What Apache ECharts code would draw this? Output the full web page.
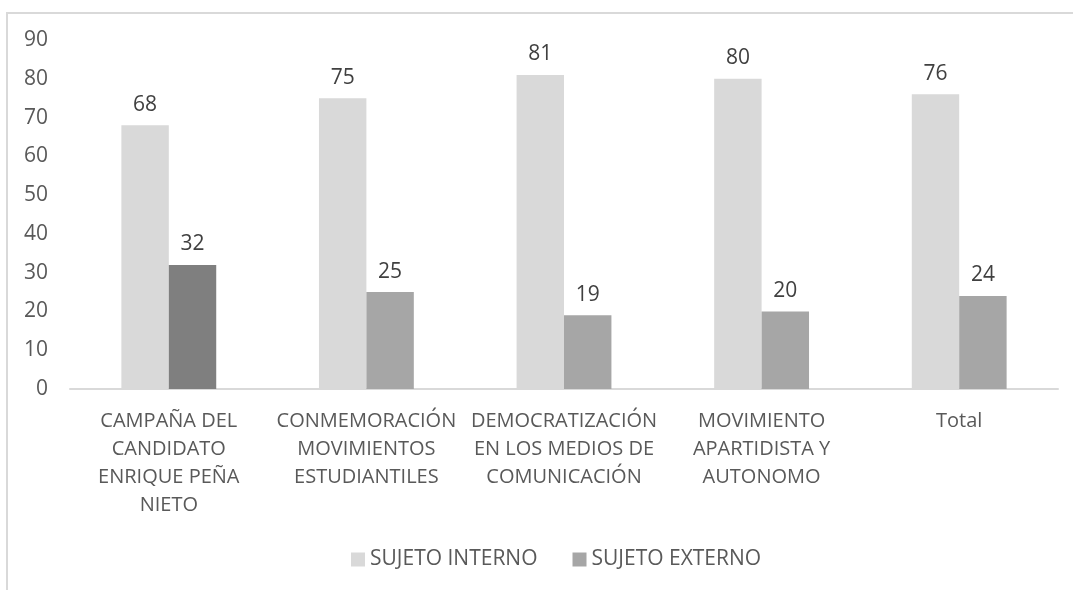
<!DOCTYPE html>
<html>
<head>
<meta charset="utf-8">
<script src="https://cdn.jsdelivr.net/npm/echarts@6/dist/echarts.min.js"></script>
<style>
  html, body { margin: 0; padding: 0; background: #fff; }
  #frame {
    position: absolute; left: 6px; top: 12px; width: 1200px; height: 700px;
    border-top: 2px solid #d9d9d9; border-left: 2px solid #d9d9d9;
  }
  #main { position: absolute; left: 0; top: 0; width: 1073px; height: 590px; }
</style>
</head>
<body>
<div id="frame"></div>
<div id="main"></div>
<script>
// categorias del eje x
var categorias = [
  'CAMPAÑA DEL\nCANDIDATO\nENRIQUE PEÑA\nNIETO',
  'CONMEMORACIÓN\nMOVIMIENTOS\nESTUDIANTILES',
  'DEMOCRATIZACIÓN\nEN LOS MEDIOS DE\nCOMUNICACIÓN',
  'MOVIMIENTO\nAPARTIDISTA Y\nAUTONOMO',
  'Total'
];
var sujetoInterno = [68, 75, 81, 80, 76];
var sujetoExterno = [32, 25, 19, 20, 24];

var fuente = '"Open Sans", "Liberation Sans", sans-serif';

var chart = echarts.init(document.getElementById('main'));
var option = {
  backgroundColor: 'transparent',
  textStyle: { fontFamily: fuente },
  legend: {
    left: 346,
    top: 544,
    itemWidth: 14,
    itemHeight: 14,
    itemGap: 35,
    icon: 'rect',
    textStyle: { fontSize: 21, color: '#595959', fontFamily: fuente },
    data: ['SUJETO INTERNO', 'SUJETO EXTERNO']
  },
  grid: { left: 70, right: 15, top: 40, bottom: 201, containLabel: false },
  xAxis: {
    type: 'category',
    data: categorias,
    axisLine: { lineStyle: { color: '#d9d9d9', width: 2 } },
    axisTick: { show: false },
    axisLabel: {
      interval: 0,
      margin: 18,
      fontSize: 20,
      lineHeight: 28,
      color: '#595959',
      fontFamily: fuente
    }
  },
  yAxis: {
    type: 'value',
    min: 0,
    max: 90,
    interval: 10,
    splitLine: { show: false },
    axisLine: { show: false },
    axisTick: { show: false },
    axisLabel: { fontSize: 21, color: '#595959', margin: 22, fontFamily: fuente }
  },
  series: [
    {
      name: 'SUJETO INTERNO',
      type: 'bar',
      data: sujetoInterno,
      barGap: '0%',
      barCategoryGap: '52%',
      itemStyle: { color: '#d9d9d9' },
      label: { show: true, position: 'top', distance: 10, fontSize: 21, color: '#404040', fontFamily: fuente }
    },
    {
      name: 'SUJETO EXTERNO',
      type: 'bar',
      data: sujetoExterno.map(function (v, i) {
        return i === 0 ? { value: v, itemStyle: { color: '#7f7f7f' } } : v;
      }),
      itemStyle: { color: '#a6a6a6' },
      label: { show: true, position: 'top', distance: 10, fontSize: 21, color: '#404040', fontFamily: fuente }
    }
  ]
};
chart.setOption(option);
</script>
</body>
</html>
